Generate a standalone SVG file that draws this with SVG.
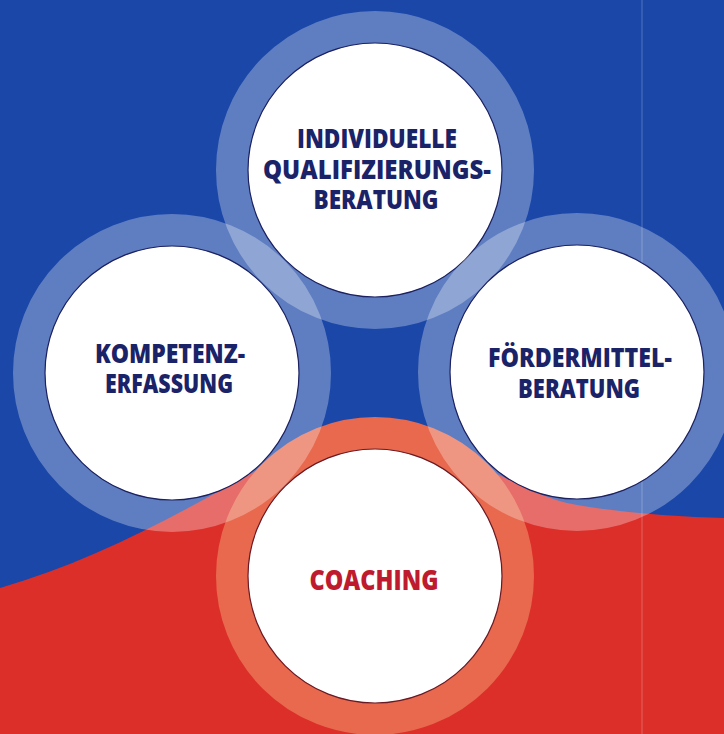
<svg xmlns="http://www.w3.org/2000/svg" width="724" height="734" viewBox="0 0 724 734">
  <style>
    .ring { fill: none; stroke: #ffffff; stroke-opacity: 0.3; stroke-width: 32; }
    .ring-red { fill: none; stroke: #e8694d; stroke-width: 32; }
    .disc { fill: #ffffff; stroke: #1c2160; stroke-width: 1.2; }
    .disc-red { fill: #ffffff; stroke: #6a1a24; stroke-width: 1.2; }
    .lbl { font-family: "Open Sans", "Liberation Sans", sans-serif; font-weight: 800; font-size: 27px; fill: #1b2368; text-anchor: middle; }
    .lbl-red { font-family: "Open Sans", "Liberation Sans", sans-serif; font-weight: 800; font-size: 28px; fill: #bf1b2e; text-anchor: middle; }
  </style>
  <g id="background">
    <rect x="0" y="0" width="724" height="734" fill="#1a47a8"/>
    <path d="M0,588 C80,565 160,525 233,483 C300,445 360,440 420,450 C490,462 530,495 567,503 C610,512 680,517 724,518 L724,734 L0,734 Z" fill="#dc2f29"/>
    <rect x="641" y="0" width="2" height="734" fill="#ffffff" fill-opacity="0.12"/>
  </g>
  <g id="connectors"></g>
  <g id="node-coaching">
    <circle class="ring-red" cx="375" cy="576" r="143"/>
    <circle class="disc-red" cx="375" cy="576" r="127"/>
    <text class="lbl-red" x="374" y="590" textLength="129" lengthAdjust="spacingAndGlyphs">COACHING</text>
  </g>
  <g id="node-qualifizierung">
    <circle class="ring" cx="375" cy="170" r="143"/>
    <circle class="disc" cx="375" cy="170" r="127"/>
    <text class="lbl" x="377" y="148" textLength="160" lengthAdjust="spacingAndGlyphs">INDIVIDUELLE</text>
    <text class="lbl" x="377" y="179" textLength="228" lengthAdjust="spacingAndGlyphs">QUALIFIZIERUNGS-</text>
    <text class="lbl" x="376" y="209" textLength="125" lengthAdjust="spacingAndGlyphs">BERATUNG</text>
  </g>
  <g id="node-kompetenz">
    <circle class="ring" cx="172" cy="373" r="143"/>
    <circle class="disc" cx="172" cy="373" r="127"/>
    <text class="lbl" x="170" y="363" textLength="150" lengthAdjust="spacingAndGlyphs">KOMPETENZ-</text>
    <text class="lbl" x="169" y="393" textLength="128" lengthAdjust="spacingAndGlyphs">ERFASSUNG</text>
  </g>
  <g id="node-foerdermittel">
    <circle class="ring" cx="577" cy="372" r="143"/>
    <circle class="disc" cx="577" cy="372" r="127"/>
    <text class="lbl" x="580" y="367" textLength="184" lengthAdjust="spacingAndGlyphs">FÖRDERMITTEL-</text>
    <text class="lbl" x="579" y="398" textLength="122" lengthAdjust="spacingAndGlyphs">BERATUNG</text>
  </g>
</svg>
